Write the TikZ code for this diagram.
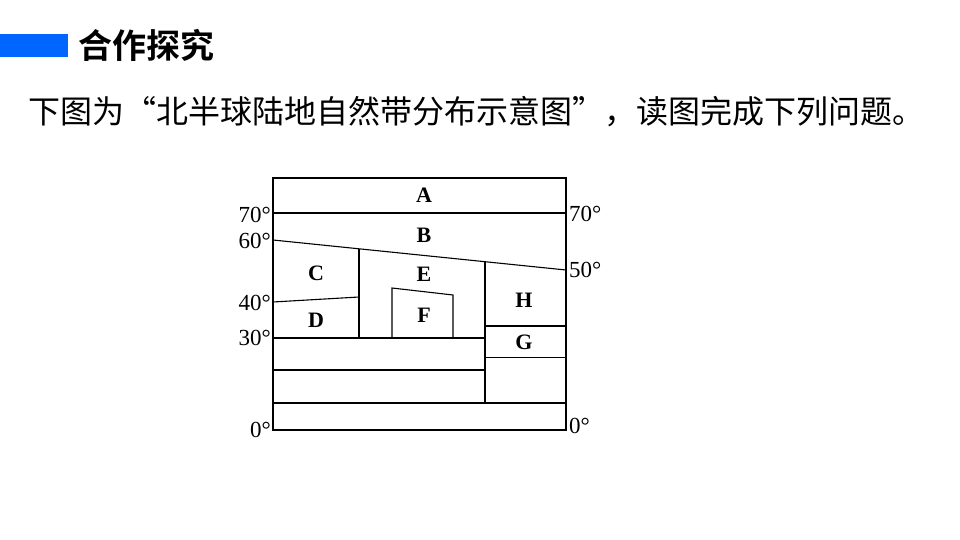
\documentclass[tikz,border=0pt]{standalone}
\usepackage{fontspec}
\setmainfont{Liberation Serif}
\newfontfamily\cjk{Noto Sans CJK SC}
\newfontfamily\cjkb{Noto Sans CJK SC Bold}
\definecolor{barblue}{RGB}{0,102,255}
\begin{document}
\begin{tikzpicture}[x=1pt,y=-1pt,
  frame/.style={line width=1.4pt},
  thick line/.style={line width=1.9pt},
  thin line/.style={line width=1.1pt},
  zone/.style={font=\fontsize{22}{22}\selectfont\bfseries, inner sep=0pt},
  deg/.style={font=\fontsize{23}{23}\selectfont, inner sep=0pt}]
\useasboundingbox (0,0) rectangle (960,540);
\fill[barblue] (0,34) rectangle (68,57);
\node[anchor=west, inner sep=0pt, font=\cjkb\fontsize{34}{34}\selectfont] (title) at (78,45) {合作探究};
\node[anchor=west, inner sep=0pt, font=\cjk\fontsize{32}{32}\selectfont] (sub) at (28,112) {下图为“北半球陆地自然带分布示意图”，读图完成下列问题。};
% frame
\draw[frame] (273,178) rectangle (566,430);
% 70 line
\draw[thin line] (273,213) -- (566,213);
% slanted 60-50 line
\draw[thin line] (273,240) -- (566,270);
% C/E vertical
\draw[thin line] (359,249) -- (359,338);
% C/D boundary
\draw[thin line] (273,302) -- (359,297);
% F box
\draw[thin line] (392,338) -- (392,288) -- (453,295) -- (453,338);
% E/H vertical
\draw[thick line] (485,261.6) -- (485,403);
% H/G
\draw[thick line] (485,326) -- (566,326);
\draw[thin line] (485,357.5) -- (566,357.5);
% 30 line
\draw[thick line] (273,338) -- (485,338);
\draw[thin line] (273,370) -- (485,370);
\draw[thin line] (273,403) -- (566,403);
% zone labels
\node[zone] (A) at (424,195) {A};
\node[zone] (B) at (424,235) {B};
\node[zone] (C) at (316,273) {C};
\node[zone] (E) at (424,274) {E};
\node[zone] (D) at (316,320) {D};
\node[zone] (F) at (424,315) {F};
\node[zone] (H) at (524,300) {H};
\node[zone] (G) at (524,342) {G};
% degree labels
\node[deg, anchor=east] (l70) at (271,215) {70°};
\node[deg, anchor=east] (l60) at (271,241) {60°};
\node[deg, anchor=east] (l40) at (271,303) {40°};
\node[deg, anchor=east] (l30) at (271,338) {30°};
\node[deg, anchor=east] (l0) at (271,430) {0°};
\node[deg, anchor=west] (r70) at (569,214) {70°};
\node[deg, anchor=west] (r50) at (569,270) {50°};
\node[deg, anchor=west] (r0) at (569,426) {0°};
\end{tikzpicture}
\end{document}
